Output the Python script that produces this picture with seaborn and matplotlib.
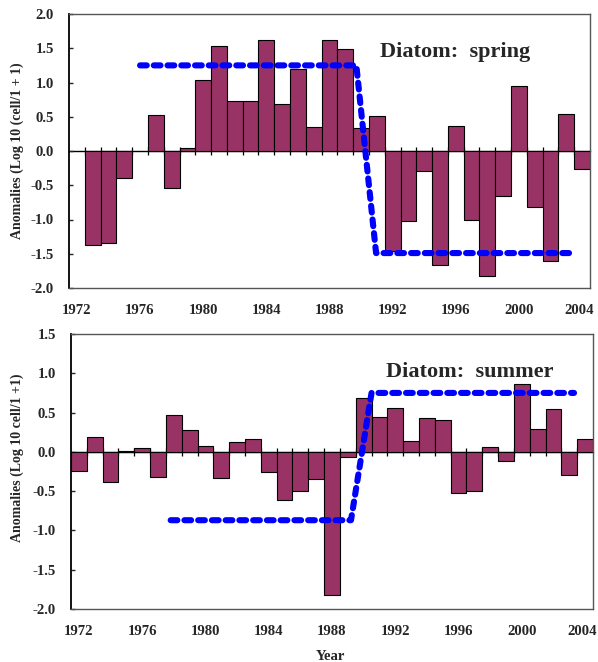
import numpy as np
import pandas as pd
import matplotlib
matplotlib.use("Agg")
import matplotlib.pyplot as plt
import matplotlib.transforms as mtransforms
import seaborn as sns

# Annual diatom anomalies, log10(cells/l + 1)
years = list(range(1972, 2005))
spring = [np.nan, -1.37, -1.35, -0.40, np.nan, 0.52, -0.54, 0.05, 1.03, 1.54,
          0.73, 0.73, 1.62, 0.68, 1.19, 0.35, 1.62, 1.49, 0.33, 0.51,
          -1.46, -1.02, -0.29, -1.67, 0.36, -1.00, -1.82, -0.66, 0.95, -0.82,
          -1.61, 0.54, -0.27]
summer = [-0.24, 0.19, -0.38, 0.01, 0.05, -0.32, 0.47, 0.28, 0.08, -0.33,
          0.12, 0.17, -0.25, -0.61, -0.50, -0.35, -1.82, -0.06, 0.69, 0.45,
          0.56, 0.14, 0.43, 0.40, -0.52, -0.50, 0.06, -0.11, 0.87, 0.29,
          0.55, -0.29, 0.17]

# Regime means (step lines)
spring_shift_x = [1976.0, 1989.7, 1990.95, 2003.4]
spring_shift_y = [1.25, 1.25, -1.49, -1.49]
summer_shift_x = [1977.8, 1989.2, 1990.5, 2003.3]
summer_shift_y = [-0.87, -0.87, 0.75, 0.75]

tick_years = [1972, 1976, 1980, 1984, 1988, 1992, 1996, 2000, 2004]

sns.set_style("white")
plt.rcParams["font.family"] = ["Liberation Serif", "DejaVu Serif"]
plt.rcParams["font.weight"] = "bold"

BAR = "#993366"
W, H = 598, 662
fig = plt.figure(figsize=(W / 100, H / 100), dpi=100)


def panel(rect, values, sx, sy, ylim, title, title_pos):
    ax = fig.add_axes(rect)
    df = pd.DataFrame({"year": years, "anom": values}).dropna()
    sns.barplot(data=df, x="year", y="anom", native_scale=True, width=1.0,
                color=BAR, saturation=1, edgecolor="black", linewidth=0.8,
                errorbar=None, ax=ax)
    sns.lineplot(x=sx, y=sy, sort=False, color="#0000ff", linewidth=4.4,
                 linestyle=(0, (1.1, 1.15)), dash_capstyle="round", ax=ax,
                 zorder=5)
    ax.set_xlim(1971.5, 2004.5)
    ax.set_ylim(*ylim)
    ax.set_yticks(np.arange(ylim[0], ylim[1] + 0.01, 0.5))
    ax.yaxis.set_major_formatter(matplotlib.ticker.FormatStrFormatter("%.1f"))
    ax.set_xticks(tick_years)
    ax.set_xlabel("")
    ax.set_ylabel("")
    ax.tick_params(axis="x", length=0, pad=11.5, labelsize=10.6)
    ax.tick_params(axis="y", direction="in", length=3, width=1, pad=11,
                   labelsize=10.6, left=True)
    for lab in ax.get_xticklabels() + ax.get_yticklabels():
        lab.set_fontweight("bold")
    # keep the last year label inside the figure edge
    last = ax.get_xticklabels()[-1]
    last.set_transform(last.get_transform() +
                       mtransforms.ScaledTranslation(-3 / 100, 0, fig.dpi_scale_trans))
    for side in ("top", "right", "bottom"):
        ax.spines[side].set_color("#555555")
        ax.spines[side].set_linewidth(1.0)
    ax.spines["left"].set_color("black")
    ax.spines["left"].set_linewidth(1.3)

    # category axis crossing at zero, with ticks between the years
    zero_frac = (0 - ylim[0]) / (ylim[1] - ylim[0])
    sec = ax.secondary_xaxis(zero_frac)
    sec.set_xticks(np.arange(1972.5, 2004.0, 1.0))
    sec.tick_params(direction="inout", length=6, width=0.9, color="black",
                    labelbottom=False, labeltop=False)
    for s in sec.spines.values():
        s.set_color("black")
        s.set_linewidth(1.0)

    ax.text(title_pos[0], title_pos[1], title, transform=ax.transAxes,
            ha="center", va="baseline", fontsize=16, fontweight="bold")
    return ax


ax1 = panel([69 / W, 1 - 288 / H, (590 - 69) / W, (288 - 14) / H],
            spring, spring_shift_x, spring_shift_y, (-2.0, 2.0),
            "Diatom:  spring", (0.742, 0.843))
ax2 = panel([71 / W, 1 - 609 / H, (593 - 71) / W, (609 - 334) / H],
            summer, summer_shift_x, summer_shift_y, (-2.0, 1.5),
            "Diatom:  summer", (0.763, 0.8436))

fig.text(17 / W, 1 - 151 / H, "Anomalies (Log 10 (cell/1 + 1)", rotation=90,
         ha="center", va="center", fontsize=10, fontweight="bold")
fig.text(17.5 / W, 1 - 458 / H, "Anomalies (Log 10 cell/1 +1)", rotation=90,
         ha="center", va="center", fontsize=10, fontweight="bold")
fig.text(330 / W, 1 - 656 / H, "Year", ha="center", va="center",
         fontsize=10.6, fontweight="bold")

fig.savefig("out.png", dpi=100)
